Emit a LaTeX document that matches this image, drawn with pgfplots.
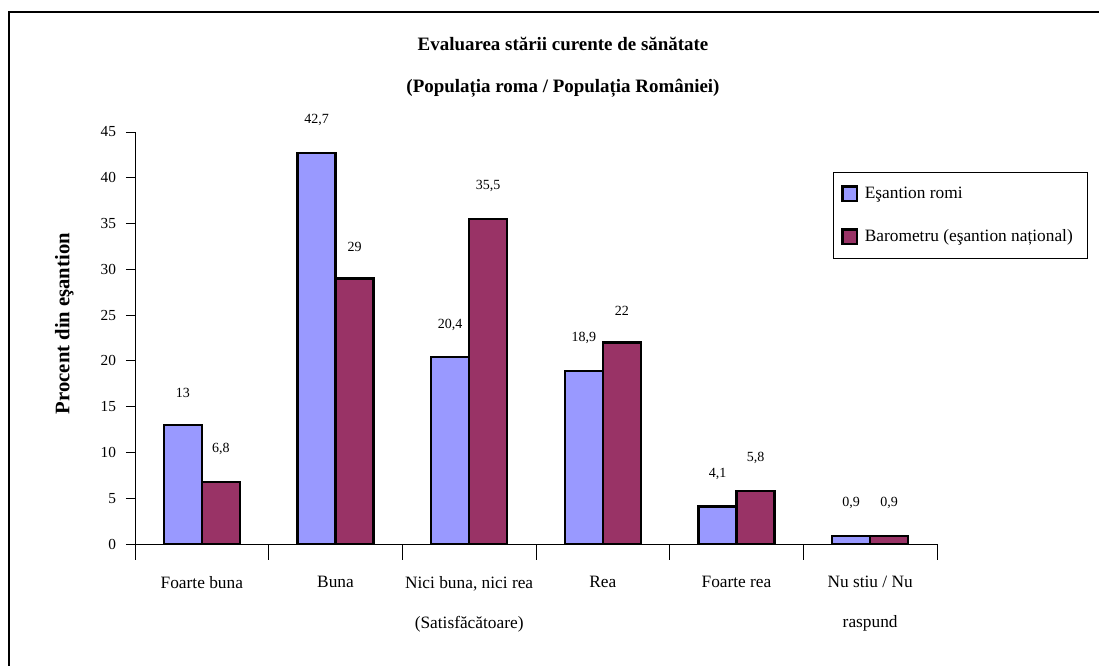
\documentclass[border=0pt]{standalone}
\usepackage{pgfplots}
\pgfplotsset{compat=1.18}
\usepackage{fontspec}
\setmainfont{Liberation Serif}

\definecolor{romi}{HTML}{9999FF}
\definecolor{barom}{HTML}{993366}

\begin{document}
\begin{tikzpicture}
  % 1 px of the reference = 0.75pt; y counted from the bottom
  \path[use as bounding box] (0,0) rectangle (824.25pt,499.5pt);
  \draw[line width=1.5pt] (6.75pt,0) -- (6.75pt,490.5pt) -- (824.25pt,490.5pt);

  \node[font=\bfseries\fontsize{14.2}{16}\selectfont] at (422.25pt,466.5pt) {Evaluarea stării curente de sănătate};
  \node[font=\bfseries\fontsize{14.2}{16}\selectfont] at (422.25pt,433.5pt) {(Populația roma / Populația României)};

  \begin{axis}[
      at={(101.25pt,91.5pt)}, anchor=south west,
      scale only axis,
      width=601.5pt, height=309pt,
      ymin=0, ymax=45,
      xmin=0.5, xmax=6.5,
      axis x line=bottom, axis y line=left,
      axis line style={-, black, line width=0.6pt},
      ytick={0,5,...,45},
      xtick={1,...,6},
      minor xtick={0.5,1.5,2.5,3.5,4.5,5.5,6.5},
      xticklabels={Foarte buna, Buna, {Nici buna, nici rea\\[15pt](Satisfăcătoare)}, Rea, Foarte rea, {Nu stiu / Nu\\[15pt]raspund}},
      tick align=outside,
      major tick length=6.75pt,
      minor tick length=12pt,
      major x tick style={draw=none},
      every tick/.style={black, line width=0.6pt},
      /pgf/number format/assume math mode=true,
      /pgf/number format/use comma,
      tick label style={font=\fontsize{11.5}{13}\selectfont},
      yticklabel style={xshift=-4pt},
      xticklabel style={font=\fontsize{13}{15}\selectfont, align=center, anchor=north, yshift=-14pt},
      ylabel={Procent din eşantion},
      ylabel style={font=\bfseries\fontsize{15.5}{17}\selectfont, at={(axis description cs:-0.088,0.535)}, anchor=center},
      ybar=0pt, bar width=28.5pt,
      nodes near coords,
      nodes near coords style={font=\fontsize{10.5}{12}\selectfont, anchor=south, yshift=16pt,
        /pgf/number format/.cd, fixed, precision=1, use comma, assume math mode=true},
      legend style={at={(axis description cs:0.8703,0.9029)}, anchor=north west,
        draw=black, line width=0.6pt, font=\fontsize{13}{15}\selectfont,
        row sep=18pt, inner xsep=6pt, inner ysep=9pt, cells={anchor=west},
        nodes={inner xsep=5pt}},
      legend image code/.code={\draw[#1, draw=black, line width=1.6pt] (0pt,-5.5pt) rectangle (11pt,5.5pt);},
    ]
    \addplot[fill=romi, draw=black, line width=1.8pt] coordinates {
        (1,13) (2,42.7) (3,20.4) (4,18.9) (5,4.1) (6,0.9)
      };
    \addplot[fill=barom, draw=black, line width=1.8pt] coordinates {
        (1,6.8) (2,29) (3,35.5) (4,22) (5,5.8) (6,0.9)
      };
    \addlegendentry{Eşantion romi}
    \addlegendentry{Barometru (eşantion național)}
  \end{axis}
  % first category boundary tick below the axis
  \draw[line width=0.6pt] (101.25pt,91.5pt) -- (101.25pt,79.5pt);
\end{tikzpicture}
\end{document}
